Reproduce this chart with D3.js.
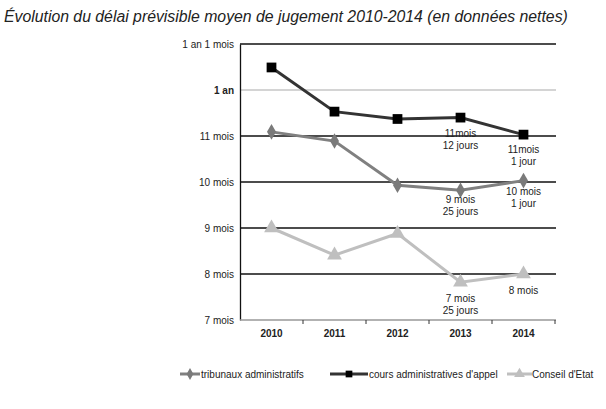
<!DOCTYPE html>
<html><head><meta charset="utf-8">
<script src="https://cdn.jsdelivr.net/npm/d3@7"></script>
<style>body{margin:0;background:#fff}svg{display:block}text{font-family:"Liberation Sans",Arial,sans-serif}</style>
</head><body>
<svg id="c" width="606" height="409"></svg>
<script>
const years = ["2010","2011","2012","2013","2014"];
const tribunaux = [11.09, 10.89, 9.93, 9.82, 10.03];
const cours = [12.49, 11.53, 11.37, 11.4, 11.03];
const conseil = [9.0, 8.41, 8.88, 7.82, 8.0];
const yTicks = [7, 8, 9, 10, 11, 12, 13];
const yTickLabels = ["7 mois","8 mois","9 mois","10 mois","11 mois","1 an","1 an 1 mois"];
const seriesNames = ["tribunaux administratifs","cours administratives d'appel","Conseil d'Etat"];
const annotCours = [null, null, null, ["11mois","12 jours"], ["11mois","1 jour"]];
const annotTrib = [null, null, null, ["9 mois","25 jours"], ["10 mois","1 jour"]];
const annotConseil = [null, null, null, ["7 mois","25 jours"], ["8 mois"]];

const svg = d3.select("#c");
const x = d3.scaleBand().domain(years).range([240, 555]);
const y = d3.scaleLinear().domain([7, 13]).range([320, 44]);

svg.append("text").attr("x", 4).attr("y", 22).attr("font-size", 15.8).attr("font-style","italic").attr("fill","#222")
  .text("Évolution du délai prévisible moyen de jugement 2010-2014 (en données nettes)");

// gridlines
svg.append("g").selectAll("line").data(yTicks.filter(d => d > 7)).join("line")
  .attr("x1", 240).attr("x2", 556).attr("y1", d => y(d)).attr("y2", d => y(d))
  .attr("stroke", d => d === 12 ? "#aaa" : "#111").attr("stroke-width", d => d === 12 ? 1.2 : 1.3);

// y axis
const ya = svg.append("g").attr("transform", "translate(240,0)")
  .call(d3.axisLeft(y).tickValues(yTicks).tickFormat((d,i) => yTickLabels[i]).tickSize(0).tickPadding(6));
ya.select(".domain").attr("stroke", "#111").attr("stroke-width", 1.3);
ya.selectAll("text").attr("font-size", 10).attr("fill", "#222")
  .attr("font-weight", d => d === 12 ? "bold" : "normal");

// x axis
const xa = svg.append("g").attr("transform", "translate(0,320)")
  .call(d3.axisBottom(x).tickSize(0).tickPadding(10));
xa.select(".domain").attr("stroke", "#999").attr("stroke-width", 1.3).attr("d", "M240,0H556");
xa.selectAll("text").attr("font-size", 10).attr("font-weight", "bold").attr("fill", "#222");
const bounds = years.map((d) => x(d) + x.bandwidth()).slice(0, -1).concat([555]);
svg.append("g").selectAll("line").data(bounds).join("line")
  .attr("x1", d => d).attr("x2", d => d).attr("y1", 320).attr("y2", 324).attr("stroke", "#333").attr("stroke-width", 1);

const cx = d => x(d) + x.bandwidth() / 2;
const line = d3.line().x((v, i) => cx(years[i])).y(v => y(v));

const series = [
  {vals: conseil, color: "#bfbfbf", sym: d3.symbolTriangle, size: 95, mcolor: "#bfbfbf"},
  {vals: tribunaux, color: "#808080", sym: d3.symbolDiamond, size: 70, mcolor: "#7a7a7a"},
  {vals: cours, color: "#333", sym: d3.symbolSquare, size: 95, mcolor: "#000"}
];
series.forEach(s => {
  svg.append("path").datum(s.vals).attr("d", line).attr("fill", "none")
    .attr("stroke", s.color).attr("stroke-width", 3);
  svg.append("g").selectAll("path").data(s.vals).join("path")
    .attr("transform", (v, i) => `translate(${cx(years[i])},${y(v)})`)
    .attr("d", d3.symbol().type(s.sym).size(s.size)).attr("fill", s.mcolor);
});

function annotate(arr, vals, dy0) {
  arr.forEach((a, i) => {
    if (!a) return;
    const t = svg.append("text").attr("text-anchor", "middle").attr("font-size", 10).attr("fill", "#222");
    a.forEach((ln, j) => t.append("tspan").attr("x", cx(years[i])).attr("y", y(vals[i]) + dy0[i] + j * 12).text(ln));
  });
}
annotate(annotCours, cours, [0,0,0,19,18]);
annotate(annotTrib, tribunaux, [0,0,0,13,14]);
annotate(annotConseil, conseil, [0,0,0,20,20]);

// legend
const leg = [
  {name: seriesNames[0], color: "#808080", mcolor: "#7a7a7a", sym: d3.symbolDiamond, size: 40, x1: 180, x2: 200, tx: 201},
  {name: seriesNames[1], color: "#333", mcolor: "#000", sym: d3.symbolSquare, size: 45, x1: 330, x2: 368, tx: 369},
  {name: seriesNames[2], color: "#bfbfbf", mcolor: "#bfbfbf", sym: d3.symbolTriangle, size: 50, x1: 507, x2: 532, tx: 532}
];
leg.forEach(l => {
  svg.append("line").attr("x1", l.x1).attr("x2", l.x2).attr("y1", 374).attr("y2", 374).attr("stroke", l.color).attr("stroke-width", 3);
  svg.append("path").attr("transform", `translate(${(l.x1 + l.x2) / 2},374)`).attr("d", d3.symbol().type(l.sym).size(l.size)).attr("fill", l.mcolor);
  svg.append("text").attr("x", l.tx).attr("y", 377.5).attr("font-size", 10).attr("fill", "#222").text(l.name);
});
</script>
</body></html>
